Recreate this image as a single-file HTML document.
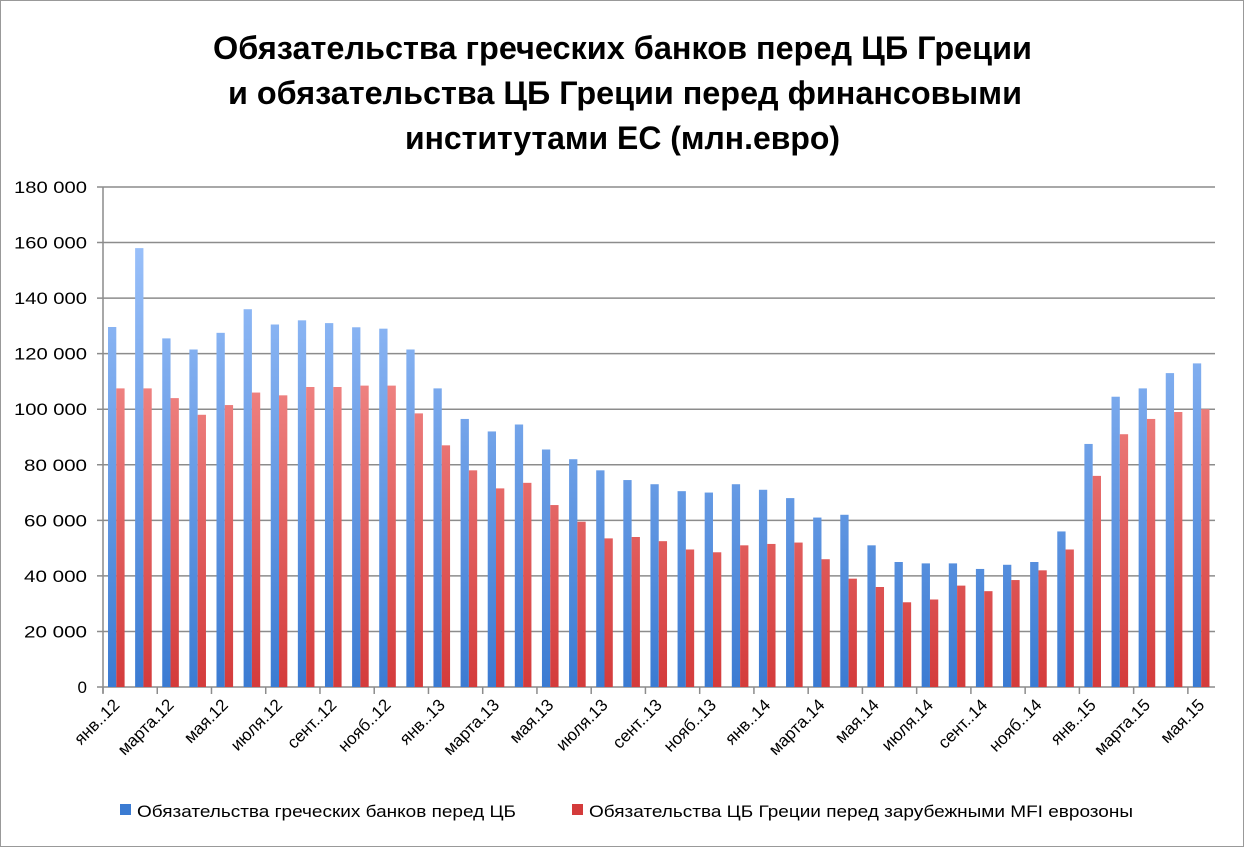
<!DOCTYPE html>
<html><head><meta charset="utf-8"><style>body{margin:0;background:#fff}svg{display:block;font-family:"Liberation Sans","DejaVu Sans",sans-serif}</style></head><body>
<svg id="s" width="1246" height="848" xmlns="http://www.w3.org/2000/svg">
<defs>
<linearGradient id="gb" gradientUnits="userSpaceOnUse" x1="0" y1="187" x2="0" y2="687"><stop offset="0" stop-color="#a6c9ff"/><stop offset="1" stop-color="#3b7bd2"/></linearGradient>
<linearGradient id="gr" gradientUnits="userSpaceOnUse" x1="0" y1="187" x2="0" y2="687"><stop offset="0" stop-color="#ffb0ae"/><stop offset="1" stop-color="#d43b3b"/></linearGradient>
</defs>
<rect x="0.5" y="0.5" width="1243" height="846" fill="#fff" stroke="#999"/>
<g font-weight="bold" font-size="32" fill="#000" lengthAdjust="spacingAndGlyphs">
<text x="213" y="59" textLength="819" lengthAdjust="spacingAndGlyphs">Обязательства греческих банков перед ЦБ Греции</text>
<text x="228" y="104" textLength="794" lengthAdjust="spacingAndGlyphs">и обязательства ЦБ Греции перед финансовыми</text>
<text x="405" y="149" textLength="435" lengthAdjust="spacingAndGlyphs">институтами ЕС (млн.евро)</text>
</g>
<g id="g"></g>
<g font-size="17">
<rect x="120" y="804" width="11" height="11" fill="url(#gb)"/>
<text x="137" y="817" textLength="379" lengthAdjust="spacingAndGlyphs">Обязательства греческих банков перед ЦБ</text>
<rect x="572" y="804" width="11" height="11" fill="url(#gr)"/>
<text x="589" y="817" textLength="544" lengthAdjust="spacingAndGlyphs">Обязательства ЦБ Греции перед зарубежными MFI еврозоны</text>
</g>
</svg>
<script>
var B=[129.6,158,125.5,121.5,127.5,136,130.5,132,131,129.5,129,121.5,107.5,96.5,92,94.5,85.5,82,78,74.5,73,70.5,70,73,71,68,61,62,51,45,44.5,44.5,42.5,44,45,56,87.5,104.5,107.5,113,116.5];
var R=[107.5,107.5,104,98,101.5,106,105,108,108,108.5,108.5,98.5,87,78,71.5,73.5,65.5,59.5,53.5,54,52.5,49.5,48.5,51,51.5,52,46,39,36,30.5,31.5,36.5,34.5,38.5,42,49.5,76,91,96.5,99,100];
var L=["янв..12","марта.12","мая.12","июля.12","сент..12","нояб..12","янв..13","марта.13","мая.13","июля.13","сент..13","нояб..13","янв..14","марта.14","мая.14","июля.14","сент..14","нояб..14","янв..15","марта.15","мая.15"];
var h='',x0=103,cw=(1215-103)/41,y0=687,k=500/180;
for(var i=0;i<=9;i++){var y=y0-i*20*k;h+='<line x1="97" x2="1215" y1="'+y+'" y2="'+y+'" stroke="#8c8c8c" stroke-width="1.5"/>';
if(i==0)h+='<text x="87" y="'+(y+6)+'" font-size="17" text-anchor="end">0</text>';
else{var s=(i*20)+' 000';var w=s.length==7?73:63;h+='<text x="'+(87-w)+'" y="'+(y+6)+'" font-size="17" textLength="'+w+'" lengthAdjust="spacingAndGlyphs">'+s+'</text>';}}
h+='<line x1="103" x2="103" y1="187" y2="693" stroke="#8c8c8c" stroke-width="1.5"/>';
for(i=0;i<41;i++){var cx=x0+i*cw;
h+='<rect x="'+(cx+5)+'" y="'+(y0-B[i]*k)+'" width="8.3" height="'+(B[i]*k)+'" fill="url(#gb)"/>';
h+='<rect x="'+(cx+13.3)+'" y="'+(y0-R[i]*k)+'" width="8.3" height="'+(R[i]*k)+'" fill="url(#gr)"/>';}
for(i=0;i<=40;i+=2){var tx=x0+i*cw;h+='<line x1="'+tx+'" x2="'+tx+'" y1="687" y2="694" stroke="#8c8c8c" stroke-width="1.5"/>';
var lx=x0+(i+0.5)*cw+4;h+='<text transform="translate('+lx+',706) rotate(-45)" font-size="17" text-anchor="end">'+L[i/2]+'</text>';}
document.getElementById('g').innerHTML=h;
</script>
</body></html>
